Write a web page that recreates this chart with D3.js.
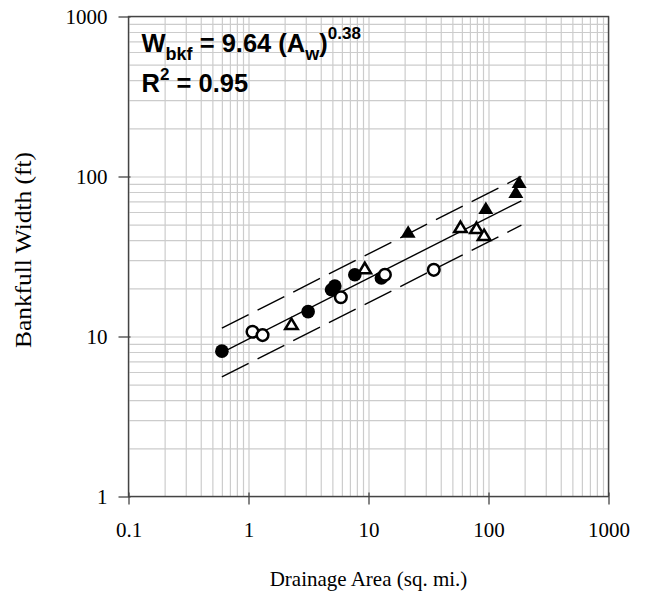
<!DOCTYPE html>
<html>
<head>
<meta charset="utf-8">
<script src="https://cdn.jsdelivr.net/npm/d3@7/dist/d3.min.js"></script>
<style>
	body { margin: 0; background: #fff; }
	svg { display: block; }
	.grid line { stroke: #cccccc; stroke-width: 1.2; }
	.grid path { display: none; }
	.axis text { font-family: 'Times New Roman', 'Liberation Serif', serif; font-size: 21px; fill: #000; }
	.axis line { stroke: #444; stroke-width: 1.3; }
	.axis path { display: none; }
</style>
</head>
<body>
<svg id="chart"></svg>
<script>
// [drainage area (sq. mi.), bankfull width (ft)]
const FILLED_CIRCLES = [[0.60, 8.1], [3.14, 14.3], [4.92, 19.6], [5.24, 20.7], [7.69, 24.3], [12.8, 23.2]];
const OPEN_CIRCLES = [[1.08, 10.7], [1.31, 10.2], [5.88, 17.6], [13.7, 24.3], [35.0, 26.1]];
const OPEN_TRIANGLES = [[2.28, 12.0], [9.31, 26.8], [58.4, 48.5], [79.4, 47.8], [91.9, 43.2]];
const FILLED_TRIANGLES = [[21.4, 45.3], [95, 63.7], [169, 80.2], [180, 92.7]];

// regression W = 9.64 A^0.38, drawn over the sampled range, with band lines
const FIT_COEF = 9.64;
const FIT_EXP = 0.38;
const FIT_RANGE = [0.6, 188];
const BAND_FACTOR = 1.42;

const X_TICKS = [0.1, 1, 10, 100, 1000];
const Y_TICKS = [1, 10, 100, 1000];

const SVG_WIDTH = 648;
const SVG_HEIGHT = 599;
const MARGIN = { top: 16.5, right: 39.5, bottom: 102.5, left: 128.5 };
const WIDTH = SVG_WIDTH - MARGIN.left - MARGIN.right;
const HEIGHT = SVG_HEIGHT - MARGIN.top - MARGIN.bottom;

const x = d3.scaleLog().domain([0.1, 1000]).range([0, WIDTH]);
const y = d3.scaleLog().domain([1, 1000]).range([HEIGHT, 0]);

const svg = d3.select('#chart')
	.attr('width', SVG_WIDTH)
	.attr('height', SVG_HEIGHT)
.append('g')
	.attr('transform', 'translate(' + MARGIN.left + ', ' + MARGIN.top + ')');

// grid
svg.append('g')
	.attr('class', 'grid')
	.attr('transform', 'translate(0, ' + HEIGHT + ')')
	.call(d3.axisBottom(x).tickValues(x.ticks()).tickSize(-HEIGHT).tickFormat(''));

svg.append('g')
	.attr('class', 'grid')
	.call(d3.axisLeft(y).tickValues(y.ticks()).tickSize(-WIDTH).tickFormat(''));

// frame
svg.append('rect')
	.attr('width', WIDTH)
	.attr('height', HEIGHT)
	.attr('fill', 'none')
	.attr('stroke', '#444')
	.attr('stroke-width', 1.4);

// X-Axis
svg.append('g')
	.attr('class', 'axis')
	.attr('transform', 'translate(0, ' + HEIGHT + ')')
	.call(d3.axisBottom(x).tickValues(X_TICKS).tickSizeInner(8).tickSizeOuter(0).tickFormat(d3.format('')))
	.call(g => g.selectAll('text').attr('y', 40).attr('dy', null));

svg.append('g')
	.attr('class', 'axis')
	.attr('transform', 'translate(0, ' + HEIGHT + ')')
	.call(d3.axisBottom(x).tickValues(X_TICKS).tickSizeInner(-4).tickSizeOuter(0).tickFormat(''));

// Y-Axis
svg.append('g')
	.attr('class', 'axis')
	.call(d3.axisLeft(y).tickValues(Y_TICKS).tickSizeInner(10).tickSizeOuter(0).tickPadding(11).tickFormat(d3.format('')))
	.call(g => g.selectAll('text').attr('dy', '0.34em'));

svg.append('g')
	.attr('class', 'axis')
	.call(d3.axisLeft(y).tickValues(Y_TICKS).tickSizeInner(-2).tickSizeOuter(0).tickFormat(''));

// axis titles
svg.append('text')
	.attr('text-anchor', 'middle')
	.attr('transform', 'translate(' + (WIDTH / 2) + ', ' + (HEIGHT + 89) + ')')
	.style('font-family', "'Times New Roman', 'Liberation Serif', serif")
	.style('font-size', '21px')
	.text('Drainage Area (sq. mi.)');

svg.append('text')
	.attr('text-anchor', 'middle')
	.attr('transform', 'translate(' + (31 - MARGIN.left) + ', ' + (HEIGHT / 2 - 6.5) + ') rotate(-90)')
	.style('font-family', "'Times New Roman', 'Liberation Serif', serif")
	.style('font-size', '24px')
	.attr('textLength', 196)
	.attr('lengthAdjust', 'spacingAndGlyphs')
	.text('Bankfull Width (ft)');

// fit lines
const fitLine = k => d3.line()
	.x(d => x(d))
	.y(d => y(k * FIT_COEF * Math.pow(d, FIT_EXP)))(FIT_RANGE);

svg.append('path')
	.attr('d', fitLine(1))
	.attr('fill', 'none')
	.attr('stroke', '#000')
	.attr('stroke-width', 1.4);

[BAND_FACTOR, 1 / BAND_FACTOR].forEach(k => {
	svg.append('path')
		.attr('d', fitLine(k))
		.attr('fill', 'none')
		.attr('stroke', '#000')
		.attr('stroke-width', 1.4)
		.attr('stroke-dasharray', '30,10');
});

// markers
const triangle = (w, h) => 'M0,' + (-h / 2) + 'L' + (w / 2) + ',' + (h / 2) + 'L' + (-w / 2) + ',' + (h / 2) + 'Z';

svg.selectAll('.open-tri')
	.data(OPEN_TRIANGLES)
	.enter()
	.append('path')
		.attr('class', 'open-tri')
		.attr('transform', d => 'translate(' + x(d[0]) + ', ' + y(d[1]) + ')')
		.attr('d', triangle(12.5, 10.5))
		.attr('fill', '#fff')
		.attr('stroke', '#000')
		.attr('stroke-width', 2.5)
		.attr('stroke-linejoin', 'miter');

svg.selectAll('.filled-tri')
	.data(FILLED_TRIANGLES)
	.enter()
	.append('path')
		.attr('class', 'filled-tri')
		.attr('transform', d => 'translate(' + x(d[0]) + ', ' + y(d[1]) + ')')
		.attr('d', triangle(15, 12.5))
		.attr('fill', '#000');

svg.selectAll('.filled-circle')
	.data(FILLED_CIRCLES)
	.enter()
	.append('circle')
		.attr('class', 'filled-circle')
		.attr('r', 6.8)
		.attr('cx', d => x(d[0]))
		.attr('cy', d => y(d[1]))
		.attr('fill', '#000');

svg.selectAll('.open-circle')
	.data(OPEN_CIRCLES)
	.enter()
	.append('circle')
		.attr('class', 'open-circle')
		.attr('r', 5.8)
		.attr('cx', d => x(d[0]))
		.attr('cy', d => y(d[1]))
		.attr('fill', '#fff')
		.attr('stroke', '#000')
		.attr('stroke-width', 2.5);

// equation
const eq = svg.append('text')
	.attr('x', 13)
	.attr('y', 35)
	.style('font-family', "Arial, 'Liberation Sans', sans-serif")
	.style('font-weight', 'bold')
	.style('font-size', '25.5px');
eq.append('tspan').text('W');
eq.append('tspan').attr('dy', 8).style('font-size', '18px').text('bkf');
eq.append('tspan').attr('dy', -8).text(' = 9.64 (A');
eq.append('tspan').attr('dy', 8).style('font-size', '18px').text('w');
eq.append('tspan').attr('dy', -8).text(')');
eq.append('tspan').attr('dy', -13).style('font-size', '17px').text('0.38');

const r2 = svg.append('text')
	.attr('x', 13)
	.attr('y', 75)
	.style('font-family', "Arial, 'Liberation Sans', sans-serif")
	.style('font-weight', 'bold')
	.style('font-size', '25.5px');
r2.append('tspan').text('R');
r2.append('tspan').attr('dy', -12).style('font-size', '17px').text('2');
r2.append('tspan').attr('dy', 12).text(' = 0.95');
</script>
</body>
</html>
